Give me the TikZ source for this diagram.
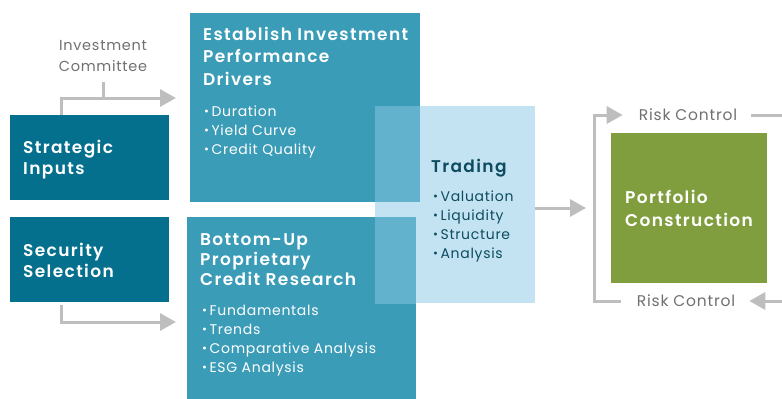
\documentclass[tikz,border=0pt]{standalone}
\usepackage{fontspec}
\setmainfont{Poppins}[LetterSpace=5, BoldFont={Poppins SemiBold}, BoldFeatures={LetterSpace=8}]
\usetikzlibrary{positioning, arrows.meta}

\definecolor{darkteal}{HTML}{04708D}
\definecolor{midteal}{HTML}{3B9CB7}
\definecolor{paleblue}{HTML}{C3E3F2}
\definecolor{overlapblue}{HTML}{62B2CD}
\definecolor{olive}{HTML}{819E3E}
\definecolor{arrowgray}{HTML}{BEBEBE}
\definecolor{labelgray}{HTML}{707070}
\definecolor{tradeink}{HTML}{0D4B5E}

\newcommand{\bul}{\raisebox{.1ex}{\scalebox{.85}{\textbullet}}\hspace{2.5pt}}

\tikzset{
  panel/.style={anchor=north west, inner sep=0pt, outer sep=0pt},
  head/.style={anchor=base west, align=left, inner sep=0pt, text=white,
    font=\bfseries\fontsize{17}{21}\selectfont},
  items/.style={anchor=base west, align=left, inner sep=0pt, text=white,
    font=\fontsize{14}{19}\selectfont},
  note/.style={inner sep=0pt, text=labelgray, font=\fontsize{14.5}{21}\selectfont},
  flow/.style={draw=arrowgray, line width=3pt, -{Triangle[length=16pt,width=17pt]}},
  feed/.style={draw=arrowgray, line width=3pt}
}

\begin{document}
\begin{tikzpicture}[x=1pt,y=-1pt]
\useasboundingbox (0,0) rectangle (782,399);

% boxes
\node[panel, fill=darkteal, minimum width=159pt, minimum height=85pt] (strat) at (10,115) {};
\node[panel, fill=darkteal, minimum width=159pt, minimum height=85pt] (select) at (10,217) {};
\node[panel, fill=midteal, minimum width=230pt, minimum height=189pt] (drivers) at (190,13) {};
\node[panel, fill=midteal, minimum width=229pt, minimum height=182pt] (research) at (187,217) {};
\node[panel, fill=paleblue, minimum width=160pt, minimum height=197pt] (trading) at (375,106) {};
\begin{scope}
  \clip (trading.north west) rectangle (trading.south east);
  \fill[overlapblue] (drivers.north west) rectangle (drivers.south east);
  \fill[overlapblue] (research.north west) rectangle (research.south east);
\end{scope}
\node[panel, fill=olive, minimum width=156pt, minimum height=150pt] (portfolio) at (611,133) {};

% texts (base = last line)
\node[head] (stratText) at (23,174) {Strategic\\Inputs};
\node[head] (selectText) at (23,277) {Security\\Selection};
\node[head, font=\bfseries\fontsize{17}{22.5}\selectfont] (driversText) at (203,85)
  {Establish Investment\\Performance\\Drivers};
\node[items] (driversList) at (204,154) {\bul Duration\\\bul Yield Curve\\\bul Credit Quality};
\node[head, font=\bfseries\fontsize{17}{20}\selectfont] (researchText) at (200,285)
  {Bottom-Up\\Proprietary\\Credit Research};
\node[items] (researchList) at (202,372)
  {\bul Fundamentals\\\bul Trends\\\bul Comparative Analysis\\\bul ESG Analysis};
\node[head, text=tradeink] (tradingText) at (431,172) {Trading};
\node[items, text=tradeink] (tradingList) at (433,258)
  {\bul Valuation\\\bul Liquidity\\\bul Structure\\\bul Analysis};
\node[head, font=\bfseries\fontsize{17}{23}\selectfont] (portfolioText) at (625,226)
  {Portfolio\\Construction};
\node[note, anchor=base, align=center] (committee) at (103,71) {Investment\\Committee};
\node[note, font=\fontsize{15.5}{21}\selectfont] (riskTop) at (688,115) {Risk Control};
\node[note, font=\fontsize{15.5}{21}\selectfont] (riskBot) at (686,301) {Risk Control};

% connectors
\coordinate (cmtJoin) at (61,98);
\coordinate (selJoin) at (61,322);
\coordinate (loopLeft) at (594,208);
\coordinate (edgeTop) at (782,115);
\coordinate (edgeBot) at (782,301);
\draw[feed] ([yshift=-11pt]committee.south) -- (committee.south |- cmtJoin);
\draw[flow] (strat.north -| cmtJoin) -- (cmtJoin) -- ([xshift=-14pt]drivers.west |- cmtJoin);
\draw[flow] ([yshift=-3pt]select.south -| selJoin) -- (selJoin) -- ([xshift=-11pt]research.west |- selJoin);
\draw[flow] (trading.east |- portfolio.west) -- ([xshift=-25pt]portfolio.west);
\draw[flow] ([xshift=-16pt]riskBot.west) -| (loopLeft) |- ([xshift=-16pt]riskTop.west);
\draw[feed] ([xshift=14pt]riskTop.east) -- (edgeTop);
\draw[flow] (edgeBot) -- ([xshift=14pt]riskBot.east);
\end{tikzpicture}
\end{document}
